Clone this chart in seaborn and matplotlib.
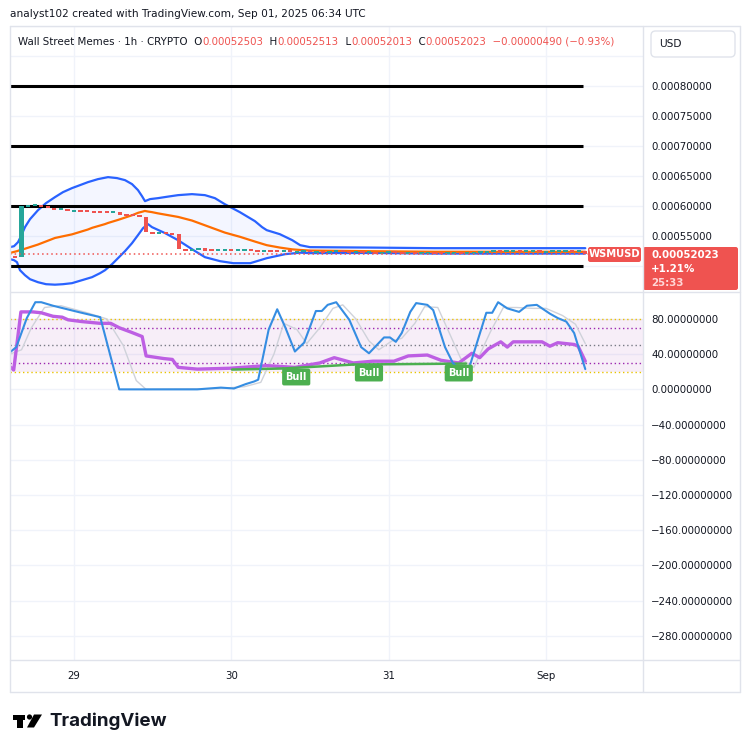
import matplotlib as mpl
mpl.use('Agg')
import matplotlib.pyplot as plt
from matplotlib.patches import FancyBboxPatch, Rectangle, Polygon, Circle
from matplotlib.lines import Line2D
from matplotlib.text import Annotation
import numpy as np
import seaborn as sns

# hourly candles, hours counted from Aug 29 00:00 UTC
bar_hours = list(range(-9, 79))
first_open = 0.000517
closes = [0.000515, 0.000600, 0.000601, 0.000602, 0.000600, 0.000597, 0.000595, 0.000596,
          0.000592, 0.000593, 0.000592, 0.000591, 0.0005905, 0.000590, 0.0005895, 0.000590,
          0.000586, 0.000585, 0.000584, 0.000582, 0.000557, 0.000555, 0.000556, 0.000554,
          0.000553, 0.000528, 0.000527, 0.000528, 0.0005285, 0.000527, 0.000526, 0.000527,
          0.0005275, 0.000526, 0.0005265, 0.000527, 0.000526, 0.000525, 0.0005255, 0.000525,
          0.000524, 0.000525, 0.000524, 0.000524, 0.000525, 0.000524, 0.000524, 0.000523,
          0.000524, 0.000525, 0.000524, 0.000523, 0.000524, 0.000523, 0.000523, 0.000522,
          0.000523, 0.000524, 0.000523, 0.000522, 0.000523, 0.000522, 0.000522, 0.000523,
          0.000522, 0.000521, 0.000522, 0.000522, 0.000521, 0.000522, 0.000523, 0.000524,
          0.000524, 0.000525, 0.000524, 0.000525, 0.000525, 0.000524, 0.000525, 0.000525,
          0.000524, 0.000524, 0.000525, 0.000525, 0.000525, 0.000524, 0.00052503, 0.00052023]

# bollinger bands (price in 1e-6 USD)
upper_hours = [-9.76, -9.15, -8.54, -8.09, -7.48, -6.71, -5.49, -4.27, -2.90, -1.68, -0.31,
               0.92, 2.14, 3.66, 5.19, 6.56, 7.78, 8.85, 9.76, 10.37, 10.83, 11.6, 12.81,
               14.3, 15.87, 18.0, 19.98, 21.5, 23.0, 25.3, 27.6, 28.7, 29.4, 31.4, 33.3,
               34.5, 36.0, 45.0, 55.0, 65.0, 78.0]
upper_vals = [531.7, 533.3, 540, 550, 565, 578.3, 593.3, 605, 615, 623.3, 630,
              635, 640, 645, 648.3, 646.7, 643.3, 636.7, 626.7, 616.7, 608.3, 611.7, 613.3,
              615.8, 618.3, 620, 618.3, 613.3, 603.3, 590, 575, 565, 560, 553.3, 543.3,
              535, 531.7, 531, 530, 530, 530]
lower_hours = [-9.76, -9.15, -8.70, -8.24, -7.48, -6.71, -5.49, -4.27, -2.90, -1.68, -0.31,
               1.22, 2.75, 3.97, 4.73, 5.80, 6.71, 7.78, 8.85, 9.76, 10.53, 11.29, 11.9,
               13.9, 15.87, 18.0, 19.98, 22.3, 24.3, 26.9, 29.4, 32.2, 34.5, 36.0, 45.0,
               55.0, 65.0, 78.0]
lower_vals = [511.7, 510, 506.7, 493.3, 485, 478.3, 473.3, 470, 469.2, 470, 471.7,
              476.7, 481.7, 488.3, 493.3, 503.3, 513.3, 525, 538.3, 551.7, 563.3, 570, 565,
              555, 543.3, 528.3, 515, 508.3, 505, 505, 513.3, 520, 522.5, 521.7, 522,
              521, 521, 521]
basis_hours = [-9.8, -8.7, -8.2, -7.5, -5.5, -2.9, -0.3, 2.1, 2.8, 4.7, 5.2, 6.7, 7.8, 8.9,
               9.8, 10.5, 10.8, 11.3, 11.9, 12.8, 15.9, 18.0, 20.0, 23.0, 24.3, 25.3, 27.6,
               29.4, 31.4, 33.3, 34.5, 36.0, 45.0, 55.0, 65.0, 78.0]
basis_vals = [522, 525, 527, 529, 536, 547, 553, 561, 564, 570, 572, 577, 581, 585,
              589, 591, 592, 591, 590, 588, 582, 576, 568, 556, 552, 549, 541,
              535, 531, 528, 527, 526, 525, 524, 524, 524]

level_lines = [0.0008, 0.0007, 0.0006, 0.0005]
price_grid = [0.0005, 0.00055, 0.0006, 0.00065, 0.0007, 0.00075, 0.0008, 0.00085, 0.0009]
price_labels = ['', '0.00055000', '0.00060000', '0.00065000', '0.00070000',
                '0.00075000', '0.00080000', '', '']

# stochastic %K / %D and RSI
k_hours = [-9.8, -8.8, -7.2, -5.9, -5.0, -3.2, 0.6, 4.0, 6.9, 8.7, 18.8, 22.4, 24.4, 26.2,
           27.5, 28.1, 29.7, 31.0, 32.2, 33.7, 35.1, 36.9, 37.8, 38.7, 40.0, 42.0, 43.8,
           45.0, 47.3, 48.2, 49.1, 50.0, 51.3, 52.2, 53.9, 54.8, 56.6, 57.8, 58.9, 60.1,
           62.9, 63.8, 64.7, 66.1, 67.9, 69.1, 70.6, 72.6, 73.8, 75.1, 76.3, 78.0]
k_vals = [42, 48, 81, 99, 99, 95, 88, 82, 0, 0, 0, 2, 1, 6,
          9, 11, 68, 91, 71, 43, 53, 89, 89, 96, 99, 79, 48,
          41, 59, 59, 54, 64, 88, 98, 96, 90, 48, 30, 22, 20,
          87, 87, 99, 92, 88, 95, 96, 86, 81, 77, 64, 23]
d_hours = [-9.8, -8.0, -6.5, -4.5, -2.0, 2.0, 5.0, 7.5, 9.5, 11.0, 22.0, 26.0, 28.5, 30.5,
           32.0, 34.0, 35.5, 37.5, 39.5, 41.0, 43.0, 45.0, 46.5, 48.5, 50.0, 52.0, 53.5,
           55.5, 57.5, 59.0, 61.0, 63.5, 65.5, 67.5, 70.0, 72.0, 74.5, 76.5, 78.0]
d_vals = [40, 45, 70, 93, 95, 87, 80, 50, 10, 0, 1, 3, 8, 40,
          75, 68, 52, 70, 92, 96, 80, 55, 45, 55, 58, 75, 94,
          93, 60, 35, 25, 65, 93, 93, 92, 92, 84, 74, 52]
rsi_hours = [-9.8, -9.2, -8.1, -6.3, -5.0, -3.2, -1.8, -0.9, 1.2, 4.0, 5.6, 6.9, 8.7, 10.4,
             11.0, 13.7, 15.0, 15.9, 18.8, 23.8, 29.4, 33.7, 37.5, 39.7, 42.6, 45.6, 48.8,
             51.0, 53.9, 56.0, 58.7, 60.7, 61.9, 63.2, 65.1, 66.1, 67.0, 70.0, 71.4, 72.6,
             73.8, 76.3, 76.9, 78.0]
rsi_vals = [26, 22, 88, 88, 87, 83, 82, 79, 77, 75, 75, 70, 65, 60,
            38, 35, 34, 25, 23, 24, 27, 25, 30, 36, 30, 32, 32,
            38, 39, 33, 30, 41, 36, 46, 54, 48, 54, 54, 54, 49,
            53, 51, 49, 32]

# bullish divergence pivots and labels
bull_from_h = [24.1, 31.9, 42.6]
bull_from_v = [22.5, 23.7, 28.2]
bull_to_h = [31.9, 42.6, 59.8]
bull_to_v = [23.7, 28.2, 29.3]
bull_label_h = [33.9, 45.0, 58.7]
bull_label_v = [14, 18.5, 18.5]

osc_ticks = [80, 40, 0, -40, -80, -120, -160, -200, -240, -280]
day_ticks = [0, 24, 48, 72]
day_labels = ['29', '30', '31', 'Sep']

UP = '#26a69a'
DOWN = '#ef5350'
TXT = '#131722'
GRID = '#f0f3fa'
BORDER = '#e0e3eb'
FS = 7.6

sns.set_style('white')
plt.rcParams['font.family'] = ['DejaVu Sans']

W, H = 750, 753
def fx(px):
    return px / W
def fy(py):
    return 1 - py / H

fig = plt.figure(figsize=(7.5, 7.53), dpi=100)
fig.patch.set_facecolor('white')

x_left = (10 - 74) / 6.555
x_right = (643 - 74) / 6.555

# ---------------- price pane ----------------
ax = fig.add_axes([fx(10), fy(292), fx(643) - fx(10), fy(26) - fy(292)])
ax.set_xlim(x_left, x_right)
ax.set_ylim(0.000457, 0.0009)
for v in price_grid:
    ax.axhline(v, color=GRID, lw=1, zorder=0)
for d in day_ticks:
    ax.axvline(d, color=GRID, lw=1, zorder=0)

up_p = np.array(upper_vals) * 1e-6
lo_p = np.array(lower_vals) * 1e-6
ax.fill(np.r_[upper_hours, lower_hours[::-1]], np.r_[up_p, lo_p[::-1]],
        color='#2962ff', alpha=0.05, lw=0, zorder=1)
sns.lineplot(x=upper_hours, y=up_p, ax=ax, color='#2962ff', lw=1.6, estimator=None, zorder=3)
sns.lineplot(x=lower_hours, y=lo_p, ax=ax, color='#2962ff', lw=1.6, estimator=None, zorder=3)
sns.lineplot(x=basis_hours, y=np.array(basis_vals) * 1e-6, ax=ax, color='#ff6d00', lw=1.6,
             estimator=None, zorder=3)

ax.hlines(level_lines, x_left, bar_hours[-1] - 0.3, color='black', lw=2.2, zorder=4)

opens = [first_open] + closes[:-1]
cols = [UP if c >= o else DOWN for o, c in zip(opens, closes)]
lo = np.minimum(opens, closes)
hi = np.maximum(opens, closes)
ht = np.maximum(hi - lo, 3.4e-6)
ax.bar(bar_hours, ht, bottom=lo - (ht - (hi - lo)) / 2, width=0.66, color=cols, zorder=5, lw=0)

last = closes[-1]
ax.plot([x_left, bar_hours[-1] + 0.6], [last, last], color=DOWN, lw=1.1,
        ls=(0, (1, 2)), zorder=6)

ax.set_yticks(price_grid)
ax.set_yticklabels(price_labels)
ax.yaxis.tick_right()
ax.tick_params(axis='y', length=0, pad=6, labelsize=7.4, labelcolor=TXT)
ax.tick_params(axis='x', length=0, labelbottom=False)
for s in ax.spines.values():
    s.set_visible(False)
ax.set_xlabel('')
ax.set_ylabel('')

# ---------------- oscillator pane ----------------
ax2 = fig.add_axes([fx(10), fy(660), fx(643) - fx(10), fy(292) - fy(660)])
ax2.set_xlim(x_left, x_right)
ax2.set_ylim(-307.4, 110.6)
for v in osc_ticks:
    ax2.axhline(v, color=GRID, lw=1, zorder=0)
for d in day_ticks:
    ax2.axvline(d, color=GRID, lw=1, zorder=0)
ax2.axhspan(20, 80, color='#9c27b0', alpha=0.08, lw=0, zorder=1)
ax2.axhline(80, color='#e8c400', lw=1, ls=(0, (1, 2)), zorder=2)
ax2.axhline(20, color='#e8c400', lw=1, ls=(0, (1, 2)), zorder=2)
ax2.axhline(70, color='#9c27b0', lw=1, ls=(0, (1, 2)), zorder=2)
ax2.axhline(30, color='#9c27b0', lw=1, ls=(0, (1, 2)), zorder=2)
ax2.axhline(50, color='#787b86', lw=1, ls=(0, (1, 2)), zorder=2)

sns.lineplot(x=d_hours, y=d_vals, ax=ax2, color='#cfd2da', lw=1.0, estimator=None, zorder=3)
sns.lineplot(x=rsi_hours, y=rsi_vals, ax=ax2, color='#bd5fe3', lw=2.4, estimator=None, zorder=4)
sns.lineplot(x=k_hours, y=k_vals, ax=ax2, color='#358de2', lw=1.5, estimator=None, zorder=5)

for h0, v0, h1, v1 in zip(bull_from_h, bull_from_v, bull_to_h, bull_to_v):
    ax2.plot([h0, h1], [v0, v1], color='#4caf50', lw=1.8, zorder=4.5)
for h, v in zip(bull_label_h, bull_label_v):
    ax2.text(h, v, 'Bull', ha='center', va='center', color='white', fontsize=7,
             fontweight='bold', zorder=7,
             bbox=dict(boxstyle='round,pad=0.35,rounding_size=0.2', fc='#4caf50', ec='none'))

ax2.set_yticks(osc_ticks)
ax2.set_yticklabels(['%.8f' % t if t >= 0 else '\u2212%.8f' % (-t) for t in osc_ticks])
ax2.yaxis.tick_right()
ax2.tick_params(axis='y', length=0, pad=6, labelsize=7.4, labelcolor=TXT)
ax2.set_xticks(day_ticks)
ax2.set_xticklabels(day_labels)
ax2.tick_params(axis='x', length=0, pad=8, labelsize=7.4, labelcolor=TXT)
for s in ax2.spines.values():
    s.set_visible(False)
ax2.set_xlabel('')
ax2.set_ylabel('')

# ---------------- frame lines ----------------
def fline(x0, y0, x1, y1, c=BORDER, lw=1):
    fig.add_artist(Line2D([fx(x0), fx(x1)], [fy(y0), fy(y1)], color=c, lw=lw))

fline(10, 26, 740, 26)
fline(10, 692, 740, 692)
fline(10, 26, 10, 692)
fline(740, 26, 740, 692)
fline(643, 26, 643, 692)
fline(10, 291.5, 740, 291.5)
fline(10, 660, 740, 660)

# ---------------- texts ----------------
fig.text(fx(10), fy(14), 'analyst102 created with TradingView.com, Sep 01, 2025 06:34 UTC',
         ha='left', va='center', fontsize=FS, color=TXT)

HFS = 7.4
pieces = [('Wall Street Memes \u00b7 1h \u00b7 CRYPTO  O', TXT), ('0.00052503', DOWN),
          ('  H', TXT), ('0.00052513', DOWN), ('  L', TXT), ('0.00052013', DOWN),
          ('  C', TXT), ('0.00052023', DOWN), ('  \u22120.00000490 (\u22120.93%)', DOWN)]
anchor = fig.text(fx(18), fy(42), pieces[0][0], ha='left', va='center', fontsize=HFS,
                  color=pieces[0][1])
for s, c in pieces[1:]:
    anchor = fig.add_artist(Annotation(s, xy=(1, 0), xycoords=anchor, xytext=(0, 0),
                                       textcoords='offset points', ha='left', va='bottom',
                                       fontsize=HFS, color=c))

# USD box
fig.add_artist(FancyBboxPatch((fx(651), fy(57)), fx(735) - fx(651), fy(31) - fy(57),
                              boxstyle='round,pad=0,rounding_size=0.006',
                              transform=fig.transFigure, fc='white', ec=BORDER, lw=1))
fig.text(fx(659), fy(44), 'USD', ha='left', va='center', fontsize=FS, color=TXT)

# last price labels
fig.add_artist(FancyBboxPatch((fx(588), fy(262)), fx(641) - fx(588), fy(247) - fy(262),
                              boxstyle='round,pad=0,rounding_size=0.003',
                              transform=fig.transFigure, fc=DOWN, ec='none'))
fig.text(fx(614.5), fy(254.5), 'WSMUSD', ha='center', va='center', fontsize=7.2,
         color='white', fontweight='bold')
fig.add_artist(FancyBboxPatch((fx(643), fy(290)), fx(738) - fx(643), fy(247) - fy(290),
                              boxstyle='round,pad=0,rounding_size=0.003',
                              transform=fig.transFigure, fc=DOWN, ec='none'))
fig.text(fx(651), fy(255.5), '%.8f' % last, ha='left', va='center', fontsize=7.4,
         color='white', fontweight='bold')
fig.text(fx(651), fy(269), '+1.21%', ha='left', va='center', fontsize=7.4,
         color='white', fontweight='bold')
fig.text(fx(651), fy(282.5), '25:33', ha='left', va='center', fontsize=7.4,
         color='#ffd6d6', fontweight='bold')

# TradingView logo
fig.add_artist(Rectangle((fx(12.5), fy(719.5)), fx(25) - fx(12.5), fy(714.5) - fy(719.5),
                         transform=fig.transFigure, fc='black', ec='none'))
fig.add_artist(Rectangle((fx(17), fy(727.5)), fx(23) - fx(17), fy(714.5) - fy(727.5),
                         transform=fig.transFigure, fc='black', ec='none'))
fig.add_artist(Circle((fx(29.5), fy(717)), 2.6 / W, transform=fig.transFigure,
                      fc='black', ec='none'))
fig.add_artist(Polygon([(fx(34), fy(714.5)), (fx(42), fy(714.5)), (fx(34), fy(727.5)),
                        (fx(27), fy(727.5))], closed=True, transform=fig.transFigure,
                       fc='black', ec='none'))
fig.text(fx(49), fy(721.5), 'TradingView', ha='left', va='center', fontsize=13.5,
         fontweight='bold', family=['Inter', 'DejaVu Sans'], color='#131722')

fig.savefig('out.png', dpi=100)
